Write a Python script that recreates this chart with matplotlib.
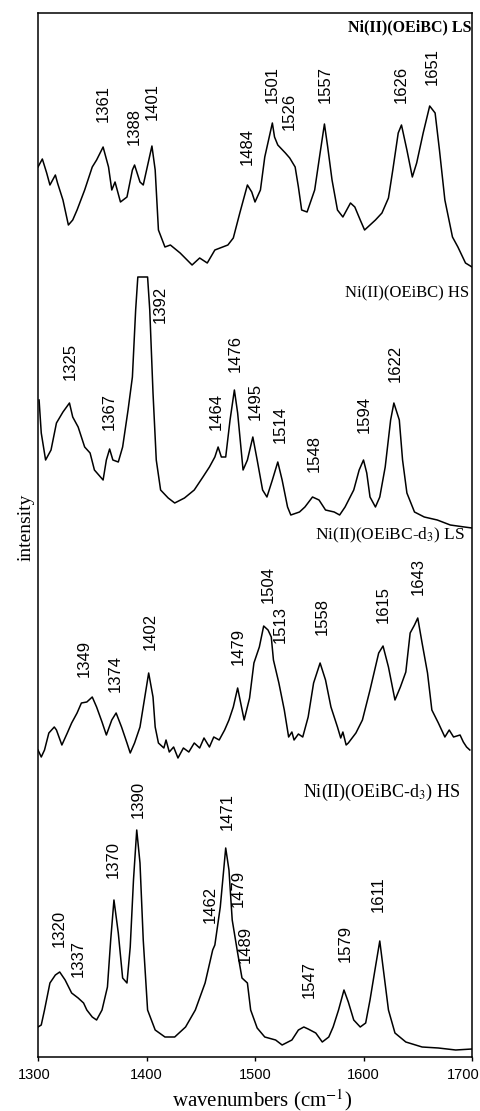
"""Resonance Raman spectra of Ni(II)(OEiBC) LS/HS and d3 analogues, stacked."""

import matplotlib
matplotlib.use("Agg")
import matplotlib.pyplot as plt
from matplotlib.transforms import ScaledTranslation

# --- data (wavenumber, relative intensity) ---
ls_wn = [1300, 1304, 1308, 1311, 1316, 1318, 1323, 1328, 1332, 1336, 1343, 1350, 1354, 1360,
         1365, 1368, 1371, 1376, 1382, 1387, 1389, 1394, 1397, 1405, 1408, 1411, 1417, 1422,
         1431, 1442, 1449, 1456, 1463, 1475, 1480, 1486, 1493, 1497, 1500, 1505, 1509, 1516,
         1518, 1521, 1528, 1532, 1537, 1540, 1543, 1548, 1555, 1560, 1564, 1567, 1571, 1576,
         1581, 1588, 1592, 1597, 1601, 1611, 1617, 1623, 1627, 1632, 1635, 1640, 1645, 1649,
         1655, 1661, 1666, 1670, 1675, 1682, 1687, 1694, 1700]
ls_int = [113, 121, 107, 95, 105, 97, 80, 55, 60, 70, 90, 113, 120, 133,
          113, 90, 98, 78, 83, 110, 115, 98, 95, 134, 110, 50, 33, 35,
          27, 15, 22, 17, 30, 35, 42, 67, 95, 88, 78, 90, 123, 157,
          143, 135, 127, 122, 113, 93, 70, 68, 90, 127, 156, 133, 100, 70,
          63, 77, 73, 60, 50, 60, 67, 82, 110, 147, 155, 130, 103, 117,
          147, 174, 167, 130, 80, 43, 33, 17, 13]

hs_wn = [1301, 1303, 1307, 1312, 1317, 1323, 1329, 1332, 1337, 1343, 1348, 1352, 1360, 1363,
         1366, 1369, 1374, 1378, 1383, 1387, 1390, 1392, 1401, 1403, 1406, 1409, 1413, 1420,
         1426, 1435, 1444, 1452, 1458, 1463, 1466, 1469, 1473, 1477, 1481, 1484, 1489, 1493,
         1498, 1502, 1507, 1511, 1516, 1521, 1525, 1530, 1533, 1541, 1546, 1553, 1559, 1565,
         1573, 1578, 1583, 1591, 1596, 1600, 1603, 1606, 1611, 1615, 1620, 1625, 1628, 1633,
         1636, 1640, 1647, 1656, 1668, 1680, 1693, 1700]
hs_int = [140, 107, 80, 90, 117, 128, 137, 123, 113, 93, 87, 70, 60, 80,
          91, 80, 78, 93, 130, 163, 230, 263, 263, 230, 147, 80, 50, 42,
          37, 42, 50, 63, 73, 83, 93, 83, 83, 120, 150, 127, 70, 80,
          103, 80, 50, 43, 60, 78, 60, 33, 25, 28, 33, 43, 40, 30,
          28, 25, 33, 50, 70, 80, 67, 43, 33, 43, 73, 120, 137, 120,
          80, 47, 28, 23, 20, 15, 13, 12]

d3ls_wn = [1300, 1303, 1306, 1310, 1315, 1317, 1322, 1327, 1331, 1336, 1340, 1345, 1350, 1354,
           1359, 1363, 1368, 1372, 1377, 1382, 1385, 1389, 1394, 1398, 1402, 1406, 1408, 1411,
           1416, 1418, 1421, 1425, 1429, 1434, 1439, 1444, 1449, 1453, 1458, 1462, 1467, 1472,
           1476, 1480, 1484, 1490, 1495, 1499, 1504, 1508, 1512, 1515, 1517, 1522, 1527, 1531,
           1534, 1536, 1540, 1544, 1549, 1554, 1560, 1565, 1570, 1576, 1579, 1581, 1584, 1586,
           1593, 1599, 1606, 1614, 1618, 1623, 1629, 1634, 1639, 1643, 1647, 1650, 1654, 1659,
           1663, 1669, 1675, 1679, 1683, 1689, 1692, 1695, 1698]
d3ls_int = [30, 23, 30, 47, 53, 50, 35, 47, 57, 67, 77, 78, 83, 73,
            58, 45, 60, 67, 53, 37, 27, 37, 53, 80, 107, 83, 53, 37,
            32, 40, 28, 33, 22, 32, 28, 37, 32, 42, 33, 43, 40, 50,
            60, 73, 92, 60, 82, 117, 133, 154, 150, 143, 120, 97, 70, 43,
            48, 40, 46, 43, 63, 97, 117, 100, 73, 53, 42, 48, 35, 37,
            47, 60, 90, 127, 134, 113, 80, 93, 108, 147, 155, 162, 137, 107,
            70, 57, 43, 50, 43, 45, 38, 33, 30]

d3hs_wn = [1300, 1303, 1306, 1311, 1316, 1320, 1325, 1331, 1337, 1342, 1345, 1350, 1354, 1359,
           1364, 1367, 1370, 1374, 1378, 1382, 1385, 1388, 1391, 1394, 1397, 1401, 1408, 1417,
           1426, 1436, 1445, 1454, 1461, 1463, 1468, 1473, 1476, 1479, 1484, 1488, 1493, 1496,
           1502, 1509, 1519, 1525, 1534, 1540, 1545, 1549, 1556, 1562, 1568, 1572, 1577, 1582,
           1586, 1591, 1597, 1602, 1606, 1611, 1615, 1618, 1623, 1629, 1639, 1654, 1669, 1685,
           1700]
d3hs_int = [30, 32, 47, 74, 82, 85, 77, 64, 59, 54, 47, 40, 37, 47,
            70, 117, 157, 124, 79, 74, 110, 177, 227, 194, 117, 47, 27, 20,
            20, 30, 47, 74, 107, 112, 150, 209, 187, 137, 104, 79, 74, 47,
            29, 20, 17, 12, 17, 27, 30, 28, 24, 15, 20, 30, 47, 67,
            55, 37, 30, 34, 57, 90, 116, 90, 47, 24, 15, 10, 9, 7,
            8]

ls_peaks = [1361, 1388, 1401, 1484, 1501, 1526, 1557, 1626, 1651]
hs_peaks = [1325, 1367, 1392, 1464, 1476, 1495, 1514, 1548, 1594, 1622]
d3ls_peaks = [1349, 1374, 1402, 1479, 1504, 1513, 1558, 1615, 1643]
d3hs_peaks = [1320, 1337, 1370, 1390, 1462, 1471, 1479, 1489, 1547, 1579, 1611]

# --- layout: vertical offsets and where the peak labels sit ---
offsets = [777, 517, 277, 0]
ls_lab_x = [1360, 1389, 1405, 1493, 1516, 1532, 1565, 1635, 1663]
ls_lab_y = [935, 912, 937, 892, 954, 927, 954, 954, 972]
hs_lab_x = [1330, 1366, 1413, 1464, 1482, 1500, 1523, 1555, 1601, 1629]
hs_lab_y = [677, 627, 734, 627, 685, 637, 614, 585, 624, 675]
d3ls_lab_x = [1343, 1371, 1403, 1485, 1512, 1523, 1562, 1618, 1650]
d3ls_lab_y = [380, 365, 407, 392, 454, 414, 422, 434, 462]
d3hs_lab_x = [1320, 1337, 1369, 1392, 1459, 1474, 1485, 1491, 1550, 1583, 1614]
d3hs_lab_y = [110, 80, 179, 239, 134, 227, 150, 94, 59, 95, 145]

titles = ["Ni(II)(OEiBC) LS", "Ni(II)(OEiBC) HS",
          r"Ni(II)(OEiBC-d$_3$) LS", r"Ni(II)(OEiBC-d$_3$) HS"]
title_x = [1700, 1697, 1694, 1689]
title_y = [1030, 764, 522, 265]
title_size = [11.5, 12, 12.5, 13]

plt.rcParams["font.family"] = ["Liberation Sans", "DejaVu Sans"]
plt.rcParams["mathtext.fontset"] = "stix"

W, H = 480, 1111
fig = plt.figure(figsize=(W / 100, H / 100), dpi=100)
ax = fig.add_axes([38 / W, 1 - 1057 / H, 434 / W, 1044 / H])

traces = [(ls_wn, ls_int), (hs_wn, hs_int), (d3ls_wn, d3ls_int), (d3hs_wn, d3hs_int)]
for (wn, inten), off in zip(traces, offsets):
    ax.plot(wn, [v + off for v in inten], color="black", lw=1.1)

labels = [(ls_peaks, ls_lab_x, ls_lab_y), (hs_peaks, hs_lab_x, hs_lab_y),
          (d3ls_peaks, d3ls_lab_x, d3ls_lab_y), (d3hs_peaks, d3hs_lab_x, d3hs_lab_y)]
for peaks, xs, ys in labels:
    for p, x, y in zip(peaks, xs, ys):
        ax.text(x, y, str(p), rotation=90, ha="center", va="bottom", fontsize=12)

for i, (t, x, y, fs) in enumerate(zip(titles, title_x, title_y, title_size)):
    ax.text(x, y, t, ha="right", va="center", fontsize=fs,
            family="Liberation Serif", weight="bold" if i == 0 else "normal")

ax.set_xlim(1300, 1700)
ax.set_ylim(0, 1044)
ax.set_xticks([1300, 1400, 1500, 1600, 1700])
ax.set_yticks([])
ax.tick_params(axis="x", direction="out", length=3, width=1, labelsize=10.5, pad=5)
for s in ax.spines.values():
    s.set_linewidth(1.1)

# nudge the edge tick labels so they stay inside the canvas
tl = ax.get_xticklabels()
tl[-1].set_transform(tl[-1].get_transform() + ScaledTranslation(-9 / 100, 0, fig.dpi_scale_trans))
tl[0].set_transform(tl[0].get_transform() + ScaledTranslation(-4 / 100, 0, fig.dpi_scale_trans))

fig.text(262 / W, 1 - 1100 / H, "wavenumbers (cm$^{-1}$)", ha="center", va="center",
         fontsize=15, family="Liberation Serif")
fig.text(26 / W, 1 - 527 / H, "intensity", rotation=90, ha="center", va="center",
         fontsize=14, family="Liberation Serif")

fig.savefig("out.png", dpi=100)
plt.close(fig)
